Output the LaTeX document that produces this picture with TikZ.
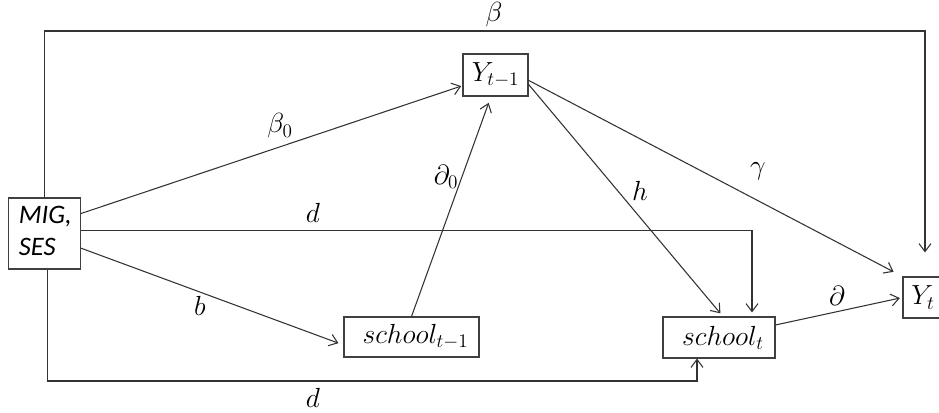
\documentclass[tikz,border=0pt]{standalone}
\usepackage{fontspec}
\newfontfamily\calib{Carlito}
\usetikzlibrary{arrows.meta}
\begin{document}
\begin{tikzpicture}[x=0.75pt,y=-0.75pt,
  box/.style={draw=black!75,line width=0.8pt,rectangle,inner sep=0pt},
  conn/.style={draw=black!80,line width=0.8pt,-{Straight Barb[length=6pt,width=9pt]}},
  lbl/.style={font=\fontsize{20}{23}\selectfont},
  big/.style={font=\fontsize{21}{25}\selectfont}]
\useasboundingbox (0,0) rectangle (939,412);
% nodes
\node[box,minimum width=54pt,minimum height=53.25pt] (mig) at (44.5,233.5) {};
\node[anchor=west,align=left,inner sep=0pt,font=\calib\itshape\fontsize{20}{24}\selectfont] (migtxt) at ([xshift=8pt,yshift=2pt]mig.west) {MIG,\\SES};
\node[box,big,minimum width=48.75pt,minimum height=31.5pt] (y1) at (495.5,75) {$Y_{t-1}$};
\node[box,big,minimum width=101.25pt,minimum height=30pt] (s1) at (411.5,337) {\hspace{6pt}$school_{t-1}$};
\node[box,big,minimum width=84pt,minimum height=30.75pt] (s2) at (719,337.5) {\hspace{6pt}$school_{t}$};
\node[box,big,minimum width=30pt,minimum height=30.75pt] (yt) at (923,297.5) {$Y_{t}$};
\coordinate (topy) at (0,31);
\coordinate (boty) at (0,381);
% connectors
\draw[conn,shorten >=18pt] (mig.north) -- (mig.north |- topy) -- ([xshift=1.5pt]yt.north |- topy) -- ([xshift=1.5pt]yt.north);
\draw[conn,shorten >=1pt] ([yshift=15pt]mig.east) -- ([yshift=-8pt]y1.west);
\draw[conn,shorten >=4pt] ([yshift=-11pt]mig.east) -- ([yshift=-6pt]s1.west);
\draw[conn,shorten >=5pt] (s1.north) -- ([xshift=-3.4pt]y1.south);
\draw[conn,shorten >=3pt] ([yshift=-7pt]y1.east) -- ([xshift=3pt]s2.north);
\draw[conn,shorten >=7.5pt] ([yshift=-4pt]y1.east) -- (yt.north west);
\draw[conn,shorten >=2pt] ([yshift=9.4pt]s2.east) -- (yt.west);
\draw[conn,shorten >=3pt] ([yshift=2pt]mig.east) -| ([xshift=24.75pt]s2.north);
\draw[conn] ([xshift=2pt]mig.south) -- ([xshift=2pt]mig.south |- boty) -| ([xshift=-16.5pt]s2.south);
% labels
\node[lbl] (lbeta) at (494,15) {$\beta$};
\node[lbl] (lbeta0) at (280,126) {$\beta_0$};
\node[lbl] (lpart0) at (446,177) {$\partial_0$};
\node[lbl] (ld1) at (313,213) {$d$};
\node[lbl] (lh) at (640,191) {$h$};
\node[lbl] (lgam) at (758,171) {$\gamma$};
\node[lbl] (lb) at (200,306) {$b$};
\node[lbl] (lpart) at (837,296) {$\partial$};
\node[lbl] (ld2) at (313,398) {$d$};
\end{tikzpicture}
\end{document}
